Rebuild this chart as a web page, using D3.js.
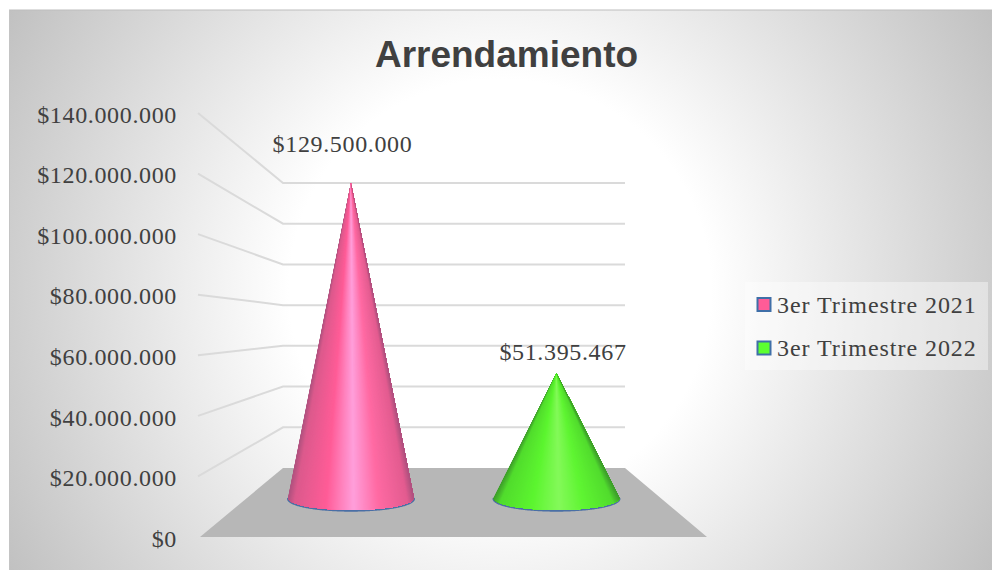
<!DOCTYPE html>
<html><head><meta charset="utf-8">
<script src="https://cdn.jsdelivr.net/npm/d3@7/dist/d3.min.js"></script>
<style>html,body{margin:0;padding:0;background:#fff}svg{display:block}</style>
</head><body><svg id="c" width="992" height="570"></svg>
<script>
const titleText = "Arrendamiento";
const categories = ["3er Trimestre 2021", "3er Trimestre 2022"];
const values = [129500000, 51395467];
const valueLabels = ["$129.500.000", "$51.395.467"];
const tickValues = [0, 20000000, 40000000, 60000000, 80000000, 100000000, 120000000, 140000000];
const tickLabels = ["$0", "$20.000.000", "$40.000.000", "$60.000.000", "$80.000.000", "$100.000.000", "$120.000.000", "$140.000.000"];
const shadeOffsets = [0, 0.05, 0.3, 0.52, 0.72, 0.95, 1];
const baseStops = [
  ["#b0527f", "#dc5a8d", "#ff5c97", "#ff9fdb", "#ff6aa3", "#e35c90", "#b0527f"],
  ["#3fa02c", "#52dc2e", "#5cf52f", "#84f95a", "#5ff532", "#52dc2e", "#3fa02c"]
];
const swatch = ["#ff5c97", "#5cff2f"];

const svg = d3.select("#c");
const defs = svg.append("defs");
const bg = defs.append("radialGradient").attr("id", "bg").attr("gradientUnits", "userSpaceOnUse")
  .attr("cx", 500).attr("cy", 290).attr("r", 570);
[[0, "#ffffff"], [0.37, "#ffffff"], [1, "#c0c0c0"]].forEach(s => bg.append("stop").attr("offset", s[0]).attr("stop-color", s[1]));
svg.append("rect").attr("x", 9).attr("y", 10).attr("width", 983).attr("height", 560).attr("fill", "url(#bg)");
svg.append("line").attr("x1", 9).attr("x2", 992).attr("y1", 10).attr("y2", 10).attr("stroke", "#bdbdbd");
svg.append("line").attr("x1", 9.5).attr("x2", 9.5).attr("y1", 10).attr("y2", 570).attr("stroke", "#c4c4c4");

svg.append("text").attr("x", 506.5).attr("y", 67).attr("text-anchor", "middle")
  .attr("font-family", "Liberation Sans").attr("font-weight", "bold").attr("font-size", 37).attr("fill", "#404040").text(titleText);

const domain = [0, 140000000];
const yFront = d3.scaleLinear().domain(domain).range([537, 113]);
const yBack = d3.scaleLinear().domain(domain).range([468, 183]);
const yCone = d3.scaleLinear().domain(domain).range([498, 157.4]);
const xCat = d3.scalePoint().domain(categories).range([351, 556.5]);

svg.append("path").attr("d", d3.line()([[283, yBack(0)], [625, yBack(0)], [707, yFront(0)], [200, yFront(0)]]) + "Z").attr("fill", "#b7b7b7");

const grid = svg.append("g").attr("fill", "none").attr("stroke", "#dadada").attr("stroke-width", 2);
tickValues.filter(v => v > 0).forEach(v => {
  grid.append("path").attr("d", d3.line()([[198, yFront(v)], [283, yBack(v)], [625, yBack(v)]]));
});

svg.append("g").attr("transform", "translate(177,1.5)")
  .call(d3.axisLeft(yFront).tickValues(tickValues).tickSize(0).tickPadding(0).tickFormat((d, i) => tickLabels[i]))
  .call(g => g.select(".domain").remove())
  .selectAll("text").attr("font-family", "Liberation Serif").attr("font-size", 24).attr("letter-spacing", 0.65).attr("fill", "#404040").attr("dy", "0.32em");

const rx = 63, ry = 12, n = 160;
const labelShift = [-8.5, 6.5], labelGap = [31, 13];
categories.forEach((c, i) => {
  const cx = xCat(c), cy = yCone(0), apex = [cx, yCone(values[i])];
  const col = d3.scaleLinear().domain(shadeOffsets).range(baseStops[i]);
  const g = svg.append("g");
  const pt = k => { const a = Math.PI * k / n; return [cx - rx * Math.cos(a), cy + ry * Math.sin(a)]; };
  const pts = d3.range(n + 1).map(pt);
  g.append("path").attr("d", d3.line()(pts)).attr("fill", "none").attr("stroke", "#4a6fa5").attr("stroke-width", 2).attr("stroke-linecap", "round").attr("transform", "translate(0,0.7)");
  d3.range(n).forEach(k => {
    const frac = ((pts[k][0] + pts[k + 1][0]) / 2 - (cx - rx)) / (2 * rx);
    g.append("path").attr("d", d3.line()([apex, ...pts.slice(k)]) + "Z").attr("fill", col(frac));
  });
  svg.append("text").attr("x", cx + labelShift[i]).attr("y", apex[1] - labelGap[i]).attr("text-anchor", "middle")
    .attr("font-family", "Liberation Serif").attr("font-size", 24).attr("letter-spacing", 0.65).attr("fill", "#404040").text(valueLabels[i]);
});

svg.append("rect").attr("x", 745).attr("y", 282).attr("width", 243).attr("height", 88).attr("fill", "#ffffff").attr("fill-opacity", 0.4);
categories.forEach((c, i) => {
  const y = 304.5 + i * 43.5;
  svg.append("rect").attr("x", 757.5).attr("y", y - 6.5).attr("width", 13).attr("height", 13).attr("fill", swatch[i]).attr("stroke", "#3f6fa8").attr("stroke-width", 2);
  svg.append("text").attr("x", 777).attr("y", y + 8).attr("font-family", "Liberation Serif").attr("font-size", 24).attr("letter-spacing", 0.95).attr("fill", "#404040").text(c);
});
</script></body></html>
